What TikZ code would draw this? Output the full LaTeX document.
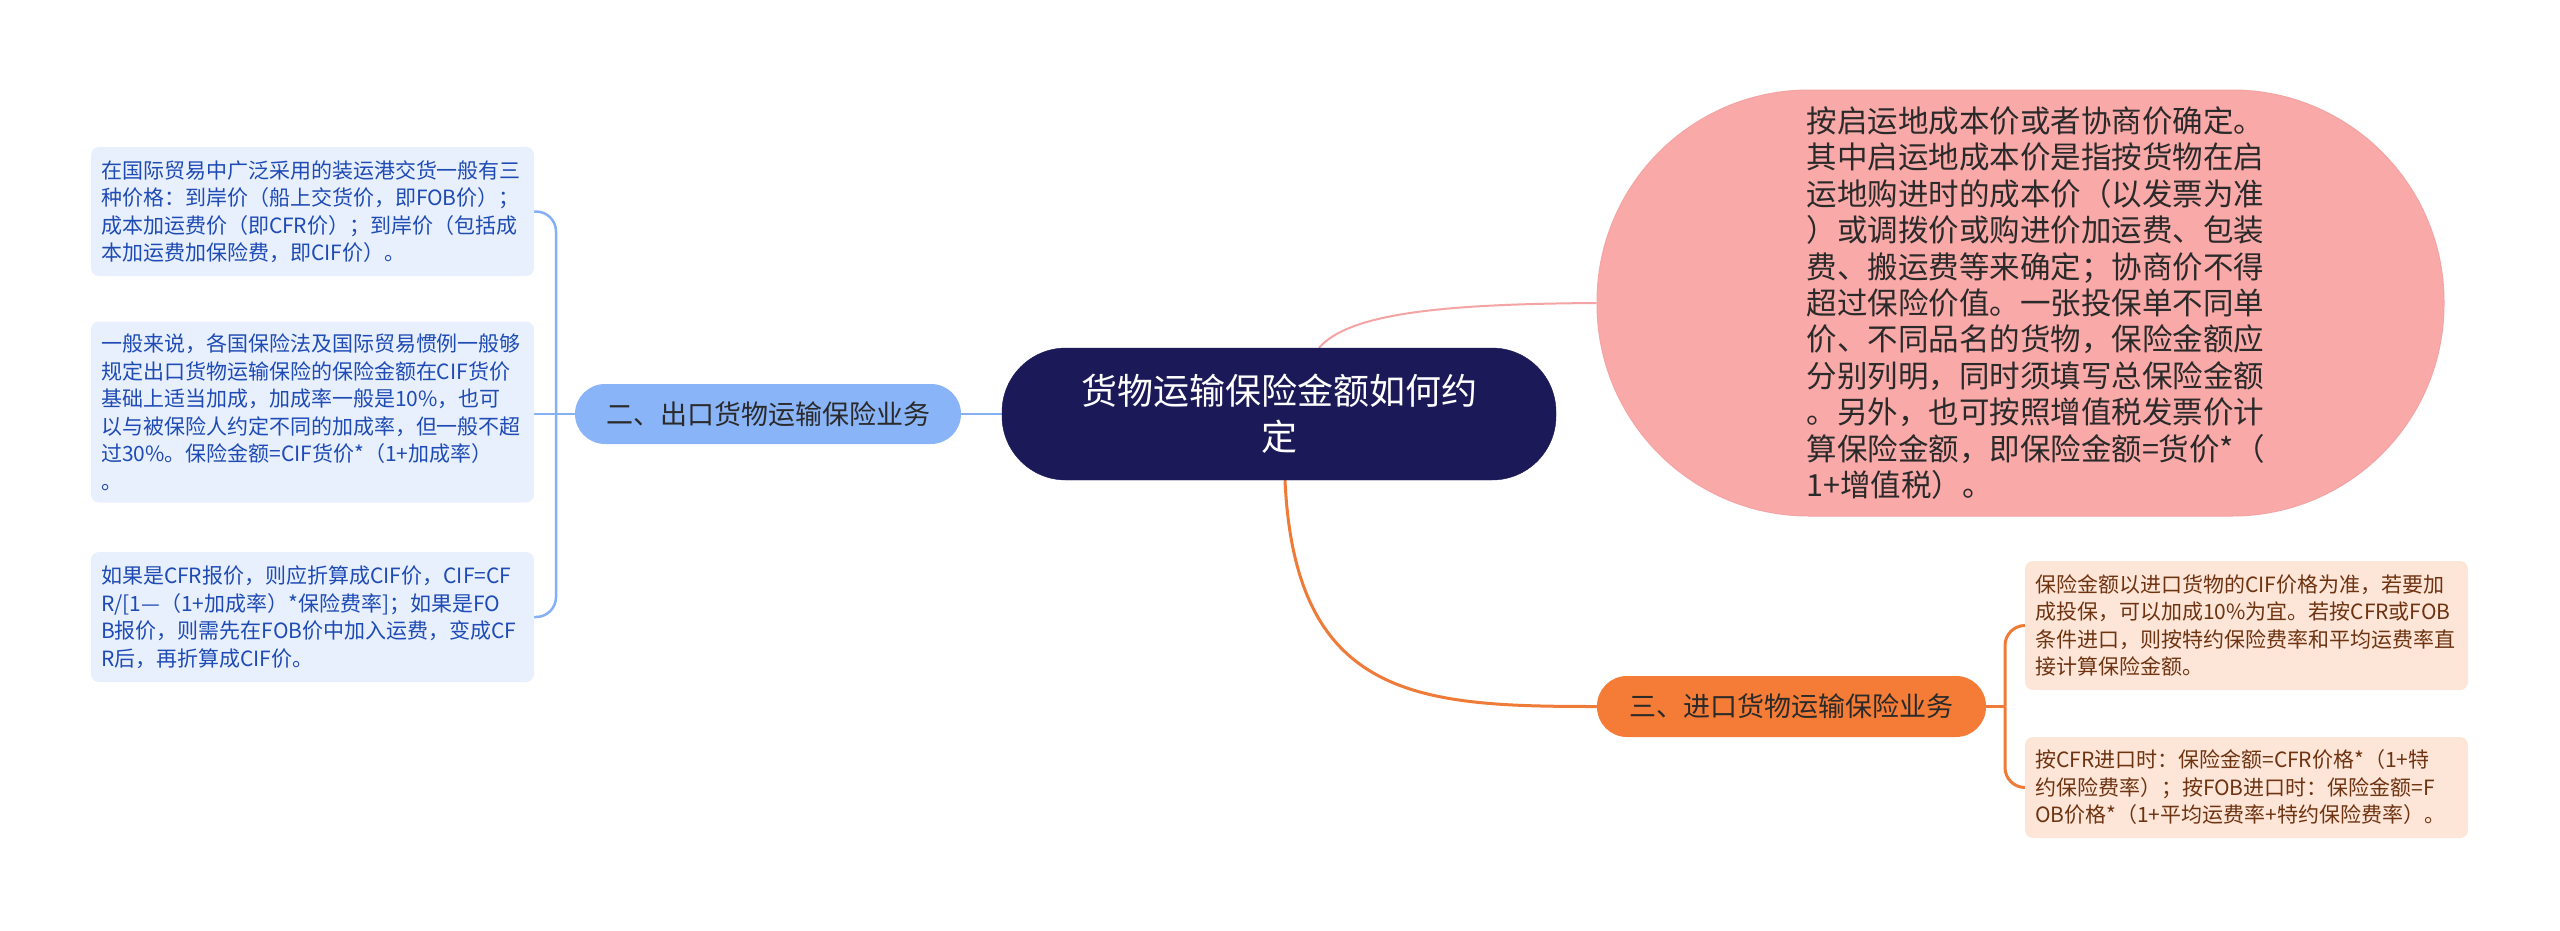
\documentclass[tikz,border=0pt]{standalone}
\usepackage{fontspec}
\setmainfont{Noto Sans CJK SC}
\usetikzlibrary{backgrounds}
\definecolor{navy}{HTML}{1B1958}
\definecolor{bluebr}{HTML}{8AB4F8}
\definecolor{blueline}{HTML}{86B0F5}
\definecolor{blueleaf}{HTML}{E8F0FE}
\definecolor{bluetext}{HTML}{1F4BB5}
\definecolor{pinkfill}{HTML}{F9A9A7}
\definecolor{pinkline}{HTML}{F4A4A4}
\definecolor{orangebr}{HTML}{F47C36}
\definecolor{orangeline}{HTML}{EE7B38}
\definecolor{peach}{HTML}{FDE6D8}
\definecolor{browntext}{HTML}{6E3412}
\definecolor{darktext}{HTML}{2A2A2A}
\tikzset{
  rootnode/.style={fill=navy, draw=navy, rounded corners=64pt, minimum width=554pt, minimum height=132pt,
    text=white, align=center, font=\fontsize{36}{46}\selectfont, inner sep=0pt},
  leftbranch/.style={fill=bluebr, rounded corners=30pt, minimum width=386pt, minimum height=60pt,
    text=darktext, font=\fontsize{27}{32}\selectfont, inner sep=0pt},
  rightbranch/.style={fill=orangebr, rounded corners=30pt, minimum width=389pt, minimum height=61pt,
    text=darktext, font=\fontsize{27}{32}\selectfont, inner sep=0pt},
  leftleaf/.style={fill=blueleaf, rounded corners=8pt, text width=423pt, inner xsep=10pt, inner ysep=0pt,
    text=bluetext, align=left, font=\fontsize{21}{27.5}\selectfont},
  rightleaf/.style={fill=peach, rounded corners=8pt, text width=423pt, inner xsep=10pt, inner ysep=0pt,
    text=browntext, align=left, font=\fontsize{21}{27.5}\selectfont},
  pinknode/.style={fill=pinkfill, draw=pinkline, line width=1pt, rounded corners=212pt, minimum width=847pt,
    minimum height=426pt, text=darktext, align=left, font=\fontsize{30.5}{36.4}\selectfont, inner sep=0pt},
  blueconn/.style={draw=blueline, line width=2.5pt},
  orangeconn/.style={draw=orangeline, line width=3pt},
  pinkconn/.style={draw=pinkline, line width=2pt}
}
\begin{document}
\begin{tikzpicture}[x=1pt, y=-1pt]
\useasboundingbox (0,0) rectangle (2560,930);

\node[rootnode] (c) at (1279,414) {货物运输保险金额如何约\\定};

\node[leftbranch] (lb) at (768,414) {二、出口货物运输保险业务};

\node[leftleaf, minimum height=129pt] (l1) at (312.5,211.5) {在国际贸易中广泛采用的装运港交货一般有三\\种价格：到岸价（船上交货价，即FOB价）；\\成本加运费价（即CFR价）；到岸价（包括成\\本加运费加保险费，即CIF价）。};
\node[leftleaf, minimum height=181pt] (l2) at (312.5,412) {一般来说，各国保险法及国际贸易惯例一般够\\规定出口货物运输保险的保险金额在CIF货价\\基础上适当加成，加成率一般是10\%，也可\\以与被保险人约定不同的加成率，但一般不超\\过30\%。保险金额=CIF货价*（1+加成率）\\。};
\node[leftleaf, minimum height=130pt] (l3) at (312.5,617) {如果是CFR报价，则应折算成CIF价，CIF=CF\\R/[1—（1+加成率）*保险费率]；如果是FO\\B报价，则需先在FOB价中加入运费，变成CF\\R后，再折算成CIF价。};

\node[pinknode] (p) at (2020.5,303) {\hspace*{42pt}\parbox{470pt}{按启运地成本价或者协商价确定。\\其中启运地成本价是指按货物在启\\运地购进时的成本价（以发票为准\\）或调拨价或购进价加运费、包装\\费、搬运费等来确定；协商价不得\\超过保险价值。一张投保单不同单\\价、不同品名的货物，保险金额应\\分别列明，同时须填写总保险金额\\。另外，也可按照增值税发票价计\\算保险金额，即保险金额=货价*（\\1+增值税）。}};

\node[rightbranch] (o) at (1791.5,706.5) {三、进口货物运输保险业务};

\node[rightleaf, minimum height=129pt] (r1) at (2246.5,625.5) {保险金额以进口货物的CIF价格为准，若要加\\成投保，可以加成10\%为宜。若按CFR或FOB\\条件进口，则按特约保险费率和平均运费率直\\接计算保险金额。};
\node[rightleaf, minimum height=101pt] (r2) at (2246.5,787.5) {按CFR进口时：保险金额=CFR价格*（1+特\\约保险费率）；按FOB进口时：保险金额=F\\OB价格*（1+平均运费率+特约保险费率）。};

\coordinate (jl) at (556,414);
\coordinate (jr) at (2005,706.5);

\begin{scope}[on background layer]
  \fill[white] (0,0) rectangle (2560,930);
  \draw[blueconn] (c.west) -- (lb.east);
  \draw[blueconn] (lb.west) -- (jl);
  \draw[blueconn, rounded corners=20pt] (l1.east) -| (jl);
  \draw[blueconn, rounded corners=20pt] (l3.east) -| (jl);
  \draw[blueconn] (jl) -- (jl -| l2.east);
  \draw[pinkconn] ([xshift=40pt]c.north) .. controls (1350,312) and (1450,304) .. (p.west);
  \draw[orangeconn] ([xshift=6pt]c.south) .. controls (1295,700) and (1420,706.5) .. (o.west);
  \draw[orangeconn] (o.east) -- (jr);
  \draw[orangeconn, rounded corners=20pt] (r1.west) -| (jr);
  \draw[orangeconn, rounded corners=20pt] (r2.west) -| (jr);
\end{scope}
\end{tikzpicture}
\end{document}
